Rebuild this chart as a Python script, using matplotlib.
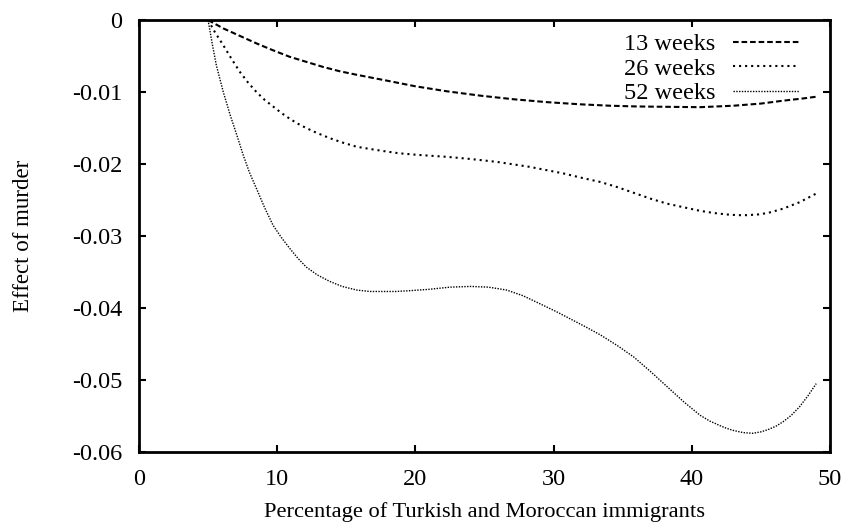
import matplotlib
matplotlib.use("Agg")
import matplotlib.pyplot as plt

# --- dati ---
x_13 = [5, 6.1, 7.3, 8.5, 9.7, 10.9, 12.1, 13.3, 14.5, 15.75, 17.9, 20, 22.3, 24.7, 27.1,
        29.5, 31.9, 34.1, 36, 38.2, 40.6, 43, 45, 46.6, 48, 49]
y_13 = [0, -0.00116, -0.0022, -0.00324, -0.0042, -0.0051, -0.0058, -0.0065, -0.0071,
        -0.0076, -0.0084, -0.0092, -0.0099, -0.0105, -0.0110, -0.0114, -0.0117, -0.0119,
        -0.0120, -0.01205, -0.0121, -0.0119, -0.0116, -0.0112, -0.0109, -0.01065]

x_26 = [5, 5.5, 6.1, 6.7, 7.3, 7.9, 8.5, 9.1, 9.7, 10.3, 10.9, 11.5, 12.1, 12.9, 13.8,
        14.7, 15.75, 16.7, 17.7, 18.8, 20, 21.1, 22.3, 24, 25.9, 28.3, 30.7, 32, 33.4,
        34.6, 35.8, 37, 38.2, 39.4, 40.6, 41.6, 42.5, 43.3, 44, 44.8, 45.5, 46.6,
        47.8, 49]
y_26 = [0, -0.0017, -0.0035, -0.0054, -0.0072, -0.0087, -0.0100, -0.0111, -0.0120,
        -0.0129, -0.0137, -0.0144, -0.0150, -0.0157, -0.0164, -0.0170, -0.0176, -0.0179,
        -0.0182, -0.0185, -0.0187, -0.01885, -0.0190, -0.0193, -0.0197, -0.0204,
        -0.0213, -0.0219, -0.0225, -0.0232, -0.0240, -0.0248, -0.0255, -0.0260,
        -0.0265, -0.0268, -0.0270, -0.0271, -0.0271, -0.0270, -0.0268, -0.0262,
        -0.0253, -0.0241]

x_52 = [5, 5.3, 5.6, 6.1, 6.6, 7.1, 7.55, 8.0, 8.5, 9.1, 9.7, 10.3, 10.9, 11.5, 12.1,
        12.9, 13.8, 14.7, 15.75, 16.7, 17.7, 18.6, 19.5, 21, 22.5, 24, 25.3, 26.6,
        27.8, 29, 30.2, 31.4, 32.4, 33.4, 34.6, 35.8, 37, 38.2, 39.4, 40.6, 41.3, 42,
        42.5, 43, 43.7, 44.4, 45, 45.5, 46.1, 46.6, 47.2, 47.8, 48.4, 49]
y_52 = [0, -0.0033, -0.0063, -0.0100, -0.0132, -0.0161, -0.0188, -0.0212, -0.0234,
        -0.0261, -0.0285, -0.0302, -0.0317, -0.0331, -0.0343, -0.0354, -0.0363, -0.0370,
        -0.0375, -0.0377, -0.0377, -0.0377, -0.0376, -0.0374, -0.0371, -0.0370, -0.0371,
        -0.0375, -0.0383, -0.0394, -0.0405, -0.0417, -0.0427, -0.04375, -0.0452,
        -0.0468, -0.0488, -0.0509, -0.0530, -0.0549, -0.0557, -0.0563, -0.0567, -0.0570,
        -0.0573, -0.0574, -0.0572, -0.0569, -0.0564, -0.0558, -0.0549, -0.0537,
        -0.0522, -0.0505]

x_ticks = [0, 10, 20, 30, 40, 50]
y_ticks = [0, -0.01, -0.02, -0.03, -0.04, -0.05, -0.06]
y_tick_labels = ['0', '-0.01', '-0.02', '-0.03', '-0.04', '-0.05', '-0.06']

plt.rcParams['font.family'] = ['Liberation Serif', 'DejaVu Serif']

fig = plt.figure(figsize=(8.48, 5.28), dpi=100)
ax = fig.add_axes([0.1639, 0.1439, 0.8149, 0.8181])

ax.plot(x_13, y_13, color='black', lw=1.5, dashes=(2.7, 1.4), label='13 weeks')
ax.plot(x_26, y_26, color='black', lw=1.5, dashes=(1.0, 1.9), label='26 weeks')
ax.plot(x_52, y_52, color='black', lw=1.0, dashes=(1.0, 1.0), label='52 weeks')

ax.set_xlim(0, 50)
ax.set_ylim(-0.06, 0)
ax.set_xticks(x_ticks)
ax.set_yticks(y_ticks)
ax.set_yticklabels(y_tick_labels)

ax.tick_params(direction='in', length=5, width=1.5, top=True, right=True,
               labelsize=17.5, pad=12)
for sp in ax.spines.values():
    sp.set_linewidth(2)

ax.set_xlabel('Percentage of Turkish and Moroccan immigrants', fontsize=16.2, labelpad=9)
ax.set_ylabel('Effect of murder', fontsize=16.5, labelpad=27)

ax.legend(loc='upper right', bbox_to_anchor=(0.975, 1.0), frameon=False,
          markerfirst=False, fontsize=17.5, handlelength=2.75, labelspacing=0.1,
          borderaxespad=0.1, handletextpad=0.7, borderpad=0.45)

fig.savefig('out.png', dpi=100)
